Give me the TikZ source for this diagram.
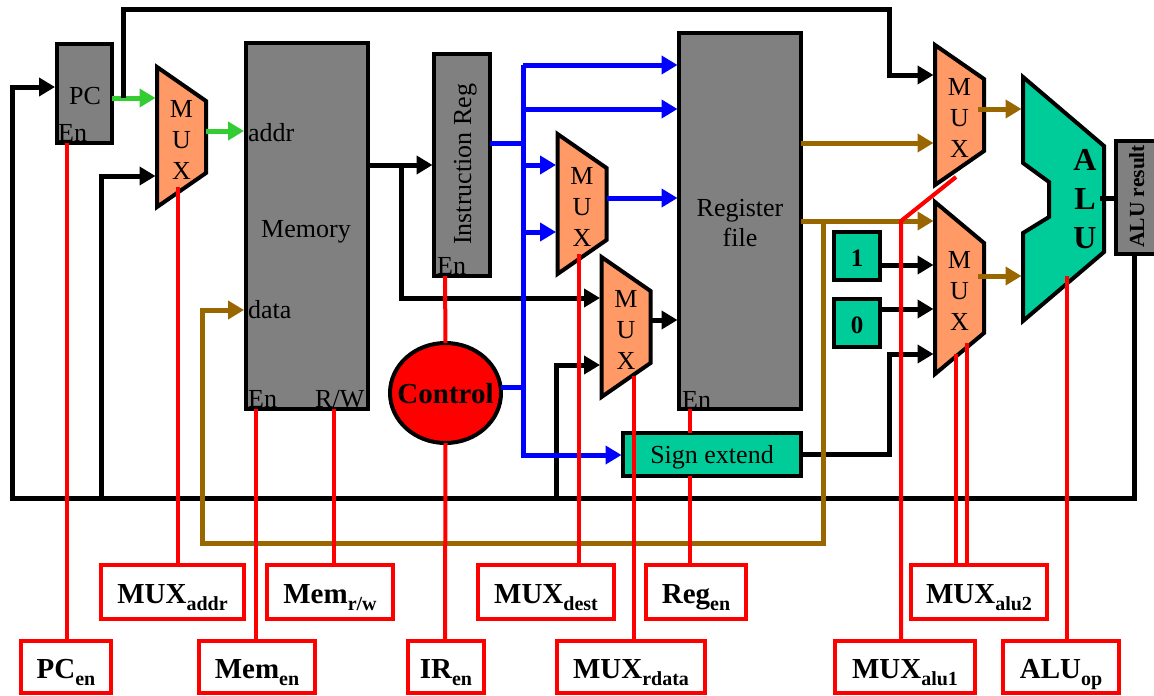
\documentclass[tikz,border=0pt]{standalone}
\usepackage{fontspec}
\setmainfont{Liberation Serif}
\usetikzlibrary{arrows.meta,shapes.geometric}

\definecolor{muxorange}{HTML}{FF9966}
\definecolor{unitgreen}{HTML}{00CC99}
\definecolor{databrown}{HTML}{996600}
\definecolor{addrgreen}{HTML}{33CC33}

\tikzset{
  unit/.style={draw,line width=4pt,fill=gray,inner sep=0pt,outer sep=0pt,align=center},
  calc/.style={unit,fill=unitgreen},
  digit/.style={calc,minimum width=46,minimum height=48,text height=21pt,text depth=0pt,font=\fontsize{25}{30}\selectfont\bfseries},
  tag/.style={inner sep=0pt,anchor=base west},
  muxshape/.style={draw,line width=4pt,fill=muxorange},
  muxtext/.style={inner sep=0pt,outer sep=0pt,align=center,minimum width=49pt,font=\fontsize{26}{31}\selectfont},
  ctrlbox/.style={draw=red,line width=4pt,fill=white,inner sep=0pt,outer sep=0pt,minimum height=54pt,text height=22pt,text depth=0pt,font=\fontsize{29}{34}\selectfont\bfseries},
  wire/.style={line width=5pt},
  tipped/.style={-{Triangle[length=16pt,width=18pt]},shorten >=1.5pt},
  redline/.style={line width=4pt,red},
  bluewire/.style={line width=5pt,blue},
  brownwire/.style={line width=5pt,databrown},
  greenwire/.style={line width=5pt,addrgreen}
}

% name, left x, top y, height, slope
\newcommand{\muxunit}[5]{
  \draw[muxshape] (#2,#3) -- ++(49,#5) -- ++(0,#4-2*#5) -- ++(-49,#5) -- cycle;
  \path (#2,#3) ++(24.5,#4/2+2.5) node[muxtext,minimum height=#4] (#1) {M\\U\\X};
}
\newcommand{\ctrlname}[2]{#1\raisebox{-7.5pt}{\fontsize{20}{20}\selectfont #2}}

\begin{document}
\begin{tikzpicture}[x=1pt,y=-1pt,font=\fontsize{26}{30}\selectfont]
  \useasboundingbox (0,0) rectangle (1154,696);
  \clip (0,0) rectangle (1154,696);

  % grey units
  \node[unit,minimum width=55,minimum height=99] (pc) at (84,93) {};
  \node[unit,minimum width=122,minimum height=366] (memory) at (306.5,226) {};
  \node[unit,minimum width=56,minimum height=222] (ir) at (462,165) {};
  \node[unit,minimum width=122,minimum height=376] (regfile) at (740,221) {};
  \node[unit,minimum width=42,minimum height=113] (alures) at (1137,197.5) {};
  \node[inner sep=0pt] (pctext) at (85,96) {PC};
  \node[tag] (pcentag) at (58,141) {En};
  \node[inner sep=0pt] (memtext) at (306,232) {Memory};
  \node[tag] (addrtag) at (248,141) {addr};
  \node[tag] (datatag) at (248,318) {data};
  \node[tag] (mementag) at (248,407) {En};
  \node[tag] (rwtag) at (315,407) {R/W};
  \node[tag,rotate=90] (irtext) at (471,245) {Instruction Reg};
  \node[tag] (irentag) at (437,274) {En};
  \node[tag] (regentag) at (682,408) {En};
  \node[inner sep=0pt,align=center] (regtext) at (740,223) {Register\\file};
  \node[tag,rotate=90,font=\fontsize{21.5}{26}\selectfont\bfseries] (alurestext) at (1144,248) {ALU result};

  % muxes
  \muxunit{muxaddr}{157}{67}{140}{34}
  \muxunit{muxdest}{557.5}{134}{140}{34}
  \muxunit{muxrdata}{601.5}{257}{140}{34}
  \muxunit{muxaluone}{935}{45}{140}{34}
  \muxunit{muxalutwo}{935}{202}{172}{41}

  % alu and the green blocks
  \draw[muxshape,fill=unitgreen] (1023,77) -- (1104,146) -- (1104,252) -- (1023,321) -- (1023,233)
    -- (1049,217) -- (1049,182) -- (1023,163) -- cycle;
  \node[align=center,inner sep=0pt,font=\fontsize{32}{39}\selectfont\bfseries] (alu) at (1085,199) {A\\L\\U};
  \node[digit] (one) at (857,256) {1};
  \node[digit] (zero) at (857,323) {0};
  \node[calc,minimum width=178,minimum height=43,text height=17pt,text depth=0pt] (signext) at (712,454.5) {Sign extend};
  \node[draw,line width=4pt,fill=red,ellipse,inner sep=0pt,outer sep=0pt,minimum width=111,minimum height=100] (control) at (445.5,393) {};
  \node[inner sep=0pt,anchor=base,font=\fontsize{29}{34}\selectfont\bfseries] (controltext) at (445.5,403) {Control};

  % control boxes
  \node[ctrlbox,minimum width=143] (cmuxaddr) at (172.5,592) {\ctrlname{MUX}{addr}};
  \node[ctrlbox,minimum width=126] (cmemrw) at (330,592) {\ctrlname{Mem}{r/w}};
  \node[ctrlbox,minimum width=136] (cmuxdest) at (546,592) {\ctrlname{MUX}{dest}};
  \node[ctrlbox,minimum width=100] (cregen) at (696,592) {\ctrlname{Reg}{en}};
  \node[ctrlbox,minimum width=136] (cmuxalutwo) at (979,592) {\ctrlname{MUX}{alu2}};
  \node[ctrlbox,minimum width=90,minimum height=52] (cpcen) at (66,667) {\ctrlname{PC}{en}};
  \node[ctrlbox,minimum width=116,minimum height=52] (cmemen) at (257,667) {\ctrlname{Mem}{en}};
  \node[ctrlbox,minimum width=76,minimum height=52] (ciren) at (446,667) {\ctrlname{IR}{en}};
  \node[ctrlbox,minimum width=148,minimum height=52] (cmuxrdata) at (631,667) {\ctrlname{MUX}{rdata}};
  \node[ctrlbox,minimum width=140,minimum height=52] (cmuxaluone) at (905,667) {\ctrlname{MUX}{alu1}};
  \node[ctrlbox,minimum width=116,minimum height=52] (caluop) at (1061,667) {\ctrlname{ALU}{op}};

  % green address path
  \coordinate (pcout) at (123,98);
  \draw[greenwire,tipped] (pc.east |- pcout) -- (muxaddr.west |- pcout);
  \draw[greenwire,tipped] (muxaddr.east |- 0,131) -- (memory.west |- 0,131);

  % black wires
  \coordinate (busleft) at (12,498);
  \coordinate (busmid) at (101,498);
  \coordinate (busrdata) at (556,498);
  \coordinate (membranch) at (401,165);
  \draw[wire,tipped] (pcout) -- (123,9) -- (889,9) -- (889,75) -- (muxaluone.west |- 0,75);
  \draw[wire,tipped] (1134,0 |- alures.south) -- (1134,498) -- (busleft) -- (12,87) -- (pc.west |- 0,87);
  \draw[wire,tipped] (busmid) -- (101,176) -- (muxaddr.west |- 0,176);
  \draw[wire,tipped] (memory.east |- membranch) -- (ir.west |- membranch);
  \draw[wire,tipped] (membranch) -- (401,298) -- (muxrdata.west |- 0,298);
  \draw[wire,tipped] (busrdata) -- (556,365) -- (muxrdata.west |- 0,365);
  \draw[wire,tipped] (muxrdata.east |- 0,320) -- (regfile.west |- 0,320);
  \draw[wire,tipped] (signext.east) -- (889,0 |- signext.east) -- (889,354) -- (muxalutwo.west |- 0,354);
  \draw[wire,tipped] (one.east |- 0,265) -- (muxalutwo.west |- 0,265);
  \draw[wire,tipped] (zero.east |- 0,309) -- (muxalutwo.west |- 0,309);
  \draw[wire] (1100,198) -- (alures.west |- 0,198);

  % brown data path
  \draw[brownwire,tipped] (regfile.east |- 0,143) -- (muxaluone.west |- 0,143);
  \draw[brownwire,tipped] (regfile.east |- 0,221) -- (muxalutwo.west |- 0,221);
  \draw[brownwire,tipped] (823,221) -- (823,543) -- (202,543) -- (202,310) -- (memory.west |- 0,310);
  \draw[brownwire,tipped] (978,109) -- (1023,109);
  \draw[brownwire,tipped] (978,276) -- (1023,276);

  % blue wires
  \coordinate (bluetop) at (523,65);
  \coordinate (bluelow) at (523,455);
  \draw[bluewire,tipped] (bluetop) -- (bluelow) -- (signext.west |- bluelow);
  \draw[bluewire,tipped] (bluetop) -- (regfile.west |- bluetop);
  \draw[bluewire,tipped] (523,109) -- (regfile.west |- 0,109);
  \draw[bluewire] (ir.east |- 0,143) -- (523,143);
  \draw[bluewire,tipped] (523,165) -- (muxdest.west |- 0,165);
  \draw[bluewire,tipped] (523,232) -- (muxdest.west |- 0,232);
  \draw[bluewire,tipped] (muxdest.east |- 0,198) -- (regfile.west |- 0,198);
  \draw[bluewire] (control.east |- 0,387) -- (523,387);

  % red control lines
  \draw[redline] (67,0 |- pc.south) -- (67,0 |- cpcen.north);
  \draw[redline] (178,187) -- (178,0 |- cmuxaddr.north);
  \draw[redline] (256,0 |- memory.south) -- (256,0 |- cmemen.north);
  \draw[redline] (334,0 |- memory.south) -- (334,0 |- cmemrw.north);
  \draw[redline] (445,0 |- ir.south) -- (control.north);
  \draw[redline] (control.south) -- (445,0 |- ciren.north);
  \draw[redline] (579,254) -- (579,0 |- cmuxdest.north);
  \draw[redline] (634,376) -- (634,0 |- cmuxrdata.north);
  \draw[redline] (690,0 |- regfile.south) -- (690,0 |- signext.north);
  \draw[redline] (690,0 |- signext.south) -- (690,0 |- cregen.north);
  \draw[redline] (956,177) -- (901,221) -- (901,0 |- cmuxaluone.north);
  \draw[redline] (956,354) -- (956,0 |- cmuxalutwo.north);
  \draw[redline] (967,343) -- (967,0 |- cmuxalutwo.north);
  \draw[redline] (1067,276) -- (1067,0 |- caluop.north);
\end{tikzpicture}
\end{document}
